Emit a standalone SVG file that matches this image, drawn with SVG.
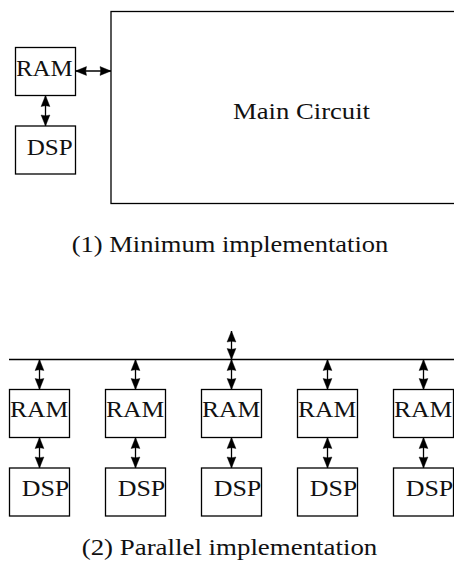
<svg xmlns="http://www.w3.org/2000/svg" width="454" height="574" viewBox="0 0 454 574">
<style>
.box{fill:#fff;stroke:#000;stroke-width:1.3}
.ln{fill:none;stroke:#000;stroke-width:1.3}
.arr{marker-start:url(#ah);marker-end:url(#ah)}
text{font-family:'Liberation Serif','Times New Roman',serif;font-size:23.5px;fill:#111}
</style>
<defs>
<marker id="ah" markerUnits="userSpaceOnUse" viewBox="0 0 10 8" markerWidth="11" markerHeight="9" refX="10" refY="4" orient="auto-start-reverse" overflow="visible">
<path d="M0,0 L10,4 L0,8 Q1.5,4 0,0 z" fill="#000" stroke="#000" stroke-width="0.4"/>
</marker>
</defs>
<rect width="454" height="574" fill="#fff"/>
<g id="connectors">
<line class="ln arr" x1="75.5" y1="71" x2="111" y2="71"/>
<line class="ln arr" x1="45.5" y1="95.5" x2="45.5" y2="126"/>
<line class="ln" x1="9" y1="359.5" x2="454" y2="359.5"/>
<line class="ln arr" x1="231.5" y1="331" x2="231.5" y2="359.5"/>
<line class="ln arr" x1="39.5" y1="359.5" x2="39.5" y2="389.5"/>
<line class="ln arr" x1="135.5" y1="359.5" x2="135.5" y2="389.5"/>
<line class="ln arr" x1="231.5" y1="359.5" x2="231.5" y2="389.5"/>
<line class="ln arr" x1="327.5" y1="359.5" x2="327.5" y2="389.5"/>
<line class="ln arr" x1="423.5" y1="359.5" x2="423.5" y2="389.5"/>
<line class="ln arr" x1="39.5" y1="437.5" x2="39.5" y2="468"/>
<line class="ln arr" x1="135.5" y1="437.5" x2="135.5" y2="468"/>
<line class="ln arr" x1="231.5" y1="437.5" x2="231.5" y2="468"/>
<line class="ln arr" x1="327.5" y1="437.5" x2="327.5" y2="468"/>
<line class="ln arr" x1="423.5" y1="437.5" x2="423.5" y2="468"/>
</g>
<g id="main">
<rect class="box" x="111" y="11.5" width="381" height="192"/>
<text x="233" y="119" textLength="137" lengthAdjust="spacingAndGlyphs">Main Circuit</text>
</g>
<g id="ram0">
<rect class="box" x="15.5" y="47.5" width="60" height="48"/>
<text x="16" y="76" textLength="56.7" lengthAdjust="spacingAndGlyphs">RAM</text>
</g>
<g id="dsp0">
<rect class="box" x="15.5" y="126" width="60" height="48"/>
<text x="26.7" y="155" textLength="46" lengthAdjust="spacingAndGlyphs">DSP</text>
</g>
<g id="caption1">
<text x="71.7" y="252" textLength="316.6" lengthAdjust="spacingAndGlyphs">(1) Minimum implementation</text>
</g>
<g id="ram1"><rect class="box" x="9.5" y="389.5" width="60" height="48"/><text x="10" y="417" textLength="58.3" lengthAdjust="spacingAndGlyphs">RAM</text></g>
<g id="ram2"><rect class="box" x="105.5" y="389.5" width="60" height="48"/><text x="106" y="417" textLength="58.3" lengthAdjust="spacingAndGlyphs">RAM</text></g>
<g id="ram3"><rect class="box" x="201.5" y="389.5" width="60" height="48"/><text x="202" y="417" textLength="58.3" lengthAdjust="spacingAndGlyphs">RAM</text></g>
<g id="ram4"><rect class="box" x="297.5" y="389.5" width="60" height="48"/><text x="298" y="417" textLength="58.3" lengthAdjust="spacingAndGlyphs">RAM</text></g>
<g id="ram5"><rect class="box" x="393.5" y="389.5" width="60" height="48"/><text x="394" y="417" textLength="58.3" lengthAdjust="spacingAndGlyphs">RAM</text></g>
<g id="dsp1"><rect class="box" x="9.5" y="468" width="60" height="48"/><text x="21.7" y="496" textLength="47.6" lengthAdjust="spacingAndGlyphs">DSP</text></g>
<g id="dsp2"><rect class="box" x="105.5" y="468" width="60" height="48"/><text x="117.7" y="496" textLength="47.6" lengthAdjust="spacingAndGlyphs">DSP</text></g>
<g id="dsp3"><rect class="box" x="201.5" y="468" width="60" height="48"/><text x="213.7" y="496" textLength="47.6" lengthAdjust="spacingAndGlyphs">DSP</text></g>
<g id="dsp4"><rect class="box" x="297.5" y="468" width="60" height="48"/><text x="309.7" y="496" textLength="47.6" lengthAdjust="spacingAndGlyphs">DSP</text></g>
<g id="dsp5"><rect class="box" x="393.5" y="468" width="60" height="48"/><text x="405.7" y="496" textLength="47.6" lengthAdjust="spacingAndGlyphs">DSP</text></g>
<g id="caption2">
<text x="81.7" y="555" textLength="295.6" lengthAdjust="spacingAndGlyphs">(2) Parallel implementation</text>
</g>
</svg>
